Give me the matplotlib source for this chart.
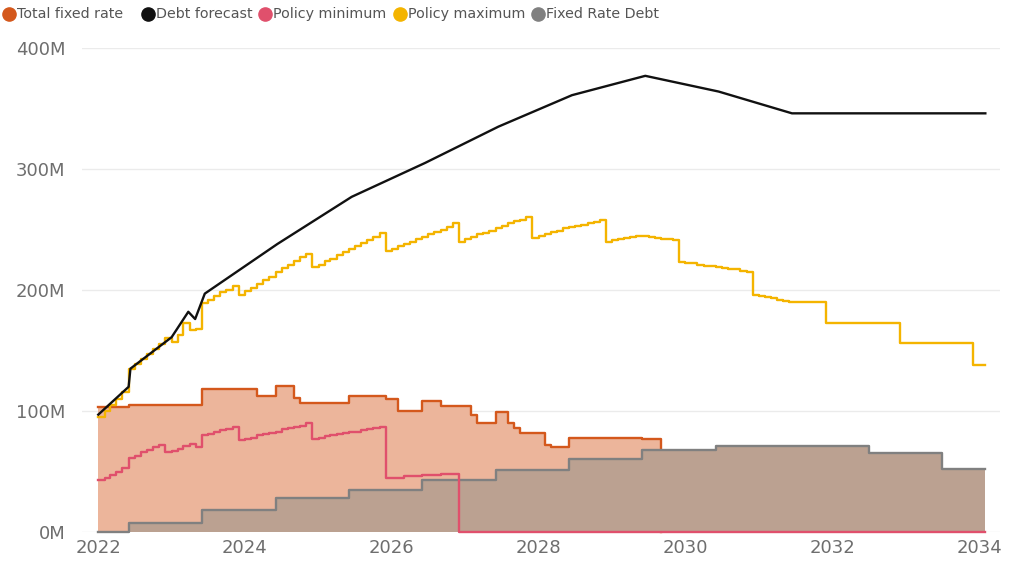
import pandas as pd
import matplotlib.pyplot as plt
import matplotlib.dates as mdates
from matplotlib.lines import Line2D

# Monthly grid Jan 2022 .. Jan 2034, last step closes at Feb 2034
months = pd.date_range('2022-01-01', '2034-01-01', freq='MS')
series_end = pd.Timestamp('2034-02-01')

# Policy maximum (M), one value per month
policy_max = [
    95, 100, 105, 110, 116, 135, 139, 143, 147, 151, 155, 160,      # 2022
    157, 163, 173, 167, 168, 189, 192, 195, 198, 200, 203, 196,     # 2023
    199, 202, 205, 208, 211, 215, 218, 221, 224, 227, 230, 219,     # 2024
    221, 224, 226, 229, 231, 234, 236, 239, 241, 244, 247, 232,     # 2025
    234, 236, 238, 240, 242, 244, 246, 248, 250, 252, 255, 240,     # 2026
    242, 244, 246, 247, 249, 251, 253, 255, 257, 258, 260, 243,     # 2027
    245, 246, 248, 249, 251, 252, 253, 254, 255, 256, 258, 240,     # 2028
    241, 242, 243, 244, 245, 245, 244, 243, 242, 242, 241, 223,     # 2029
    222, 222, 221, 220, 220, 219, 218, 217, 217, 216, 215, 196,     # 2030
    195, 194, 193, 192, 191, 190, 190, 190, 190, 190, 190, 173,     # 2031
    173, 173, 173, 173, 173, 173, 173, 173, 173, 173, 173, 156,     # 2032
    156, 156, 156, 156, 156, 156, 156, 156, 156, 156, 156, 138,     # 2033
    138,                                                            # 2034
]

# Policy minimum (M), one value per month
policy_min = [
    43, 45, 47, 50, 53, 61, 63, 66, 68, 70, 72, 66,                 # 2022
    67, 69, 71, 73, 70, 80, 81, 83, 84, 85, 87, 76,                 # 2023
    77, 78, 80, 81, 82, 83, 85, 86, 87, 88, 90, 77,                 # 2024
    78, 79, 80, 81, 82, 83, 83, 84, 85, 86, 87, 45,                 # 2025
    45, 45, 46, 46, 46, 47, 47, 47, 48, 48, 48, 0,                  # 2026
] + [0] * 85                                                        # 2027 .. 2034

# Total fixed rate (M), value from each change date on
fixed_total_dates = ['2022-01-01', '2022-06-01', '2023-06-01', '2024-03-01', '2024-06-01',
                     '2024-09-01', '2024-10-01', '2025-06-01', '2025-12-01', '2026-02-01',
                     '2026-06-01', '2026-09-01', '2027-02-01', '2027-03-01', '2027-06-01',
                     '2027-08-01', '2027-09-01', '2027-10-01', '2028-02-01', '2028-03-01',
                     '2028-06-01', '2029-06-01', '2029-09-01']
fixed_total = [103, 105, 118, 112, 121, 111, 107, 112, 110, 100, 108, 104, 97, 90, 99,
               90, 86, 82, 72, 70, 78, 77, 0]

# Fixed rate debt (M), value from each change date on
fixed_debt_dates = ['2022-01-01', '2022-06-01', '2023-06-01', '2024-06-01', '2025-06-01',
                    '2026-06-01', '2027-06-01', '2028-06-01', '2029-06-01', '2030-06-01',
                    '2032-07-01', '2033-07-01', '2034-02-01']
fixed_debt = [0, 7.5, 18, 28, 35, 43, 51, 60, 68, 71, 65, 52, 52]

# Debt forecast (M)
forecast_dates = ['2022-01-01', '2022-06-01', '2022-06-10', '2023-01-01', '2023-03-25',
                  '2023-04-28', '2023-06-15', '2024-06-10', '2025-06-15', '2026-06-15',
                  '2027-06-15', '2028-06-15', '2029-06-15', '2030-06-15', '2031-06-15',
                  '2034-02-01']
forecast = [97, 120, 135, 161, 182, 176, 197, 238, 277, 305, 335, 361, 377, 364, 346, 346]

C_ORANGE = '#D4581C'
C_ORANGE_FILL = '#ECB59B'
C_BLACK = '#111111'
C_RED = '#E0506C'
C_YELLOW = '#F4B400'
C_GRAY = '#808080'
C_GRAY_FILL = '#BBA191'
C_TEXT = '#6E6E6E'
LW = 1.7

fig = plt.figure(figsize=(10.21, 5.62), dpi=100)
ax = fig.add_axes([82 / 1021, 30 / 562, 918 / 1021, 484 / 562])

mx = list(months) + [series_end]
ft_x = pd.to_datetime(fixed_total_dates)
fd_x = pd.to_datetime(fixed_debt_dates)
fc_x = pd.to_datetime(forecast_dates)

# Areas
ax.fill_between(ft_x, fixed_total, 0, step='post', color=C_ORANGE_FILL, lw=0, zorder=1)
ax.step(ft_x, fixed_total, where='post', color=C_ORANGE, lw=LW, zorder=2, clip_on=False)
ax.fill_between(fd_x, fixed_debt, 0, step='post', color=C_GRAY_FILL, lw=0, zorder=3)
ax.step(fd_x, fixed_debt, where='post', color=C_GRAY, lw=LW, zorder=4, clip_on=False)

# Lines
ax.step(mx, policy_min + [policy_min[-1]], where='post', color=C_RED, lw=LW,
        zorder=5, clip_on=False)
ax.step(mx, policy_max + [policy_max[-1]], where='post', color=C_YELLOW, lw=LW, zorder=6)
ax.plot(fc_x, forecast, color=C_BLACK, lw=LW, zorder=7)

ax.set_ylim(0, 400)
ax.set_xlim(pd.Timestamp('2021-10-12'), pd.Timestamp('2034-04-15'))
ax.set_yticks([0, 100, 200, 300, 400])
ax.set_yticklabels(['0M', '100M', '200M', '300M', '400M'])
ax.set_xticks(pd.to_datetime(['2022-01-01', '2024-01-01', '2026-01-01', '2028-01-01',
                              '2030-01-01', '2032-01-01', '2034-01-01']))
ax.xaxis.set_major_formatter(mdates.DateFormatter('%Y'))
ax.tick_params(length=0, labelsize=13, colors=C_TEXT, pad=5)
ax.tick_params(axis='y', pad=12)
ax.grid(axis='y', color='#EBEBEB', lw=1)
ax.set_axisbelow(True)
for s in ax.spines.values():
    s.set_visible(False)

# Legend row at the top
legend_items = [('Total fixed rate', C_ORANGE, 9), ('Debt forecast', C_BLACK, 148),
                ('Policy minimum', C_RED, 265), ('Policy maximum', C_YELLOW, 400),
                ('Fixed Rate Debt', C_GRAY, 538)]
for label, color, px in legend_items:
    fig.add_artist(Line2D([px / 1021], [1 - 14 / 562], marker='o', markersize=9.5,
                          color=color, transform=fig.transFigure))
    fig.text((px + 8) / 1021, 1 - 14 / 562, label, color='#555555', fontsize=10.3,
             va='center', ha='left')

fig.savefig('out.png', dpi=100)
